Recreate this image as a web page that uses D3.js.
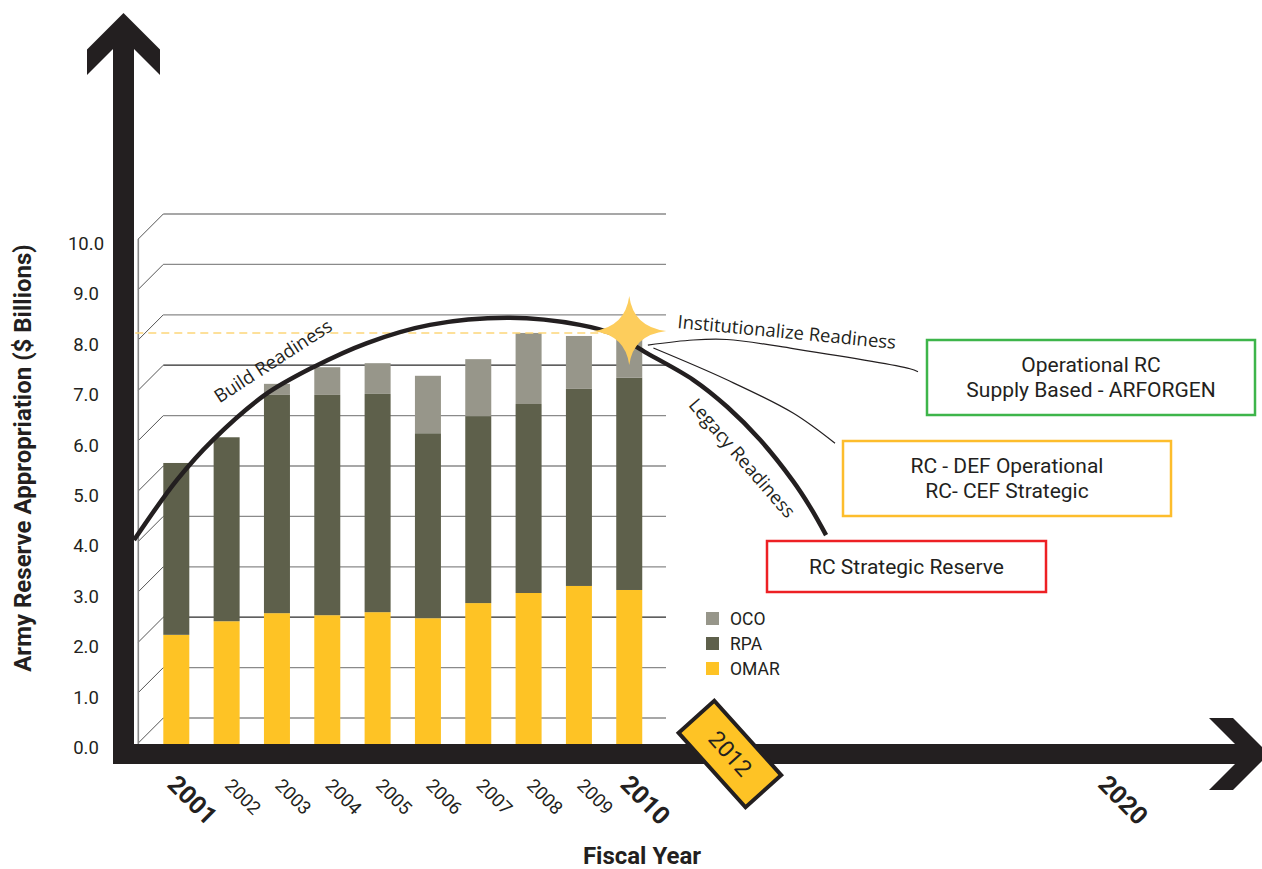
<!DOCTYPE html>
<html>
<head>
<meta charset="utf-8">
<script src="https://cdn.jsdelivr.net/npm/d3@7/dist/d3.min.js"></script>
<style>
  html, body { margin: 0; padding: 0; background: #ffffff; }
  svg { display: block; }
</style>
</head>
<body>
<svg id="chart" width="1262" height="869"></svg>
<script>
// ---------------- DATA ----------------
const years = [2001, 2002, 2003, 2004, 2005, 2006, 2007, 2008, 2009, 2010];
const omar  = [1.65, 1.92, 2.08, 2.04, 2.10, 1.98, 2.28, 2.48, 2.62, 2.54];
const rpa   = [3.41, 3.65, 4.33, 4.37, 4.33, 3.67, 3.71, 3.75, 3.91, 4.21];
const oco   = [0.00, 0.00, 0.22, 0.55, 0.61, 1.14, 1.13, 1.41, 1.05, 0.87];
const seriesNames = ["OCO", "RPA", "OMAR"];
const yTickValues = [0, 1, 2, 3, 4, 5, 6, 7, 8, 9, 10];
const yTickLabels = ["0.0","1.0","2.0","3.0","4.0","5.0","6.0","7.0","8.0","9.0","10.0"];
const boldYears = [2001, 2010, 2020];
const milestoneYears = [2012, 2020];
const referenceLevel = 7.64;   // dashed line level
const starValue = 7.68;        // star on FY2010

// annotation curves in (year, value) space
const readinessArc = [
  [2000.16, 3.53], [2001.01, 4.72], [2001.73, 5.52], [2002.76, 6.41], [2003.72, 6.96],
  [2004.79, 7.44], [2006.04, 7.80], [2007.63, 7.94], [2009.02, 7.80], [2009.68, 7.62],
  [2010.35, 7.24], [2011.27, 6.71], [2011.95, 6.17], [2012.64, 5.52], [2013.34, 4.70],
  [2013.70, 4.19], [2014.04, 3.63]
];
const institutionalizeLine = [
  [2010.37, 7.40], [2011.27, 7.50], [2011.94, 7.51], [2013.34, 7.33], [2015.82, 6.93], [2015.99, 6.87]
];
const defLine = [
  [2010.48, 7.34], [2011.94, 6.71], [2013.34, 6.05], [2014.23, 5.45]
];

// ---------------- LAYOUT ----------------
const svg = d3.select("#chart");
const x = d3.scaleLinear().domain([2001, 2012, 2020]).range([176.3, 729.9, 1107]);
const y = d3.scaleLinear().domain([0, 10]).range([718, 214]);
const barW = 26;
const depth = 25;           // 3-D wall offset
const gridRight = 666;
const axisColor = "#231f20";
const colors = { OCO: "#97968a", RPA: "#5e604b", OMAR: "#fec325" };
const sans = "Roboto, 'Open Sans', sans-serif";
const myriad = "'Open Sans', 'Noto Sans', sans-serif";

const floorY = y(0) + depth + 2;
const frontX = x.range()[0] - 38;
const backX = frontX + depth;

// ---------------- GRID (3-D wall) ----------------
const grid = svg.append("g");
grid.selectAll("line.h").data(yTickValues).join("line")
  .attr("x1", backX).attr("x2", gridRight)
  .attr("y1", d => y(d)).attr("y2", d => y(d))
  .attr("stroke", d => (d === 2 || d === 7) ? "#2a2a2a" : "#8a8a8a")
  .attr("stroke-width", 1.3);
grid.selectAll("line.d").data(yTickValues).join("line")
  .attr("x1", frontX).attr("x2", backX)
  .attr("y1", d => y(d) + depth).attr("y2", d => y(d))
  .attr("stroke", "#555").attr("stroke-width", 1);
grid.append("line")
  .attr("x1", frontX).attr("x2", frontX)
  .attr("y1", y(10) + depth).attr("y2", floorY)
  .attr("stroke", "#8a8a8a").attr("stroke-width", 1.6);

// ---------------- BARS ----------------
const table = years.map((yr, i) => ({ year: yr, OMAR: omar[i], RPA: rpa[i], OCO: oco[i] }));
const stack = d3.stack().keys(["OMAR", "RPA", "OCO"])(table);
const bars = svg.append("g");
stack.forEach(layer => {
  bars.append("g").attr("fill", colors[layer.key])
    .selectAll("rect").data(layer).join("rect")
    .attr("x", d => x(d.data.year) - barW / 2)
    .attr("width", barW)
    .attr("y", d => y(d[1]))
    .attr("height", d => (layer.key === "OMAR" ? floorY : y(d[0])) - y(d[1]));
});

// ---------------- DASHED REFERENCE ----------------
svg.append("line")
  .attr("x1", frontX - 3).attr("x2", x(2010))
  .attr("y1", y(referenceLevel)).attr("y2", y(referenceLevel))
  .attr("stroke", "#fdd67a").attr("stroke-width", 1.6)
  .attr("stroke-dasharray", "8,5");

// ---------------- CURVES ----------------
const line = d3.line().x(d => x(d[0])).y(d => y(d[1])).curve(d3.curveCatmullRom.alpha(0.5));
svg.append("path").attr("d", line(institutionalizeLine))
  .attr("fill", "none").attr("stroke", "#231f20").attr("stroke-width", 1.2);
svg.append("path").attr("d", line(defLine))
  .attr("fill", "none").attr("stroke", "#231f20").attr("stroke-width", 1.2);
svg.append("path").attr("d", line(readinessArc))
  .attr("fill", "none").attr("stroke", "#231f20").attr("stroke-width", 4.5)
  .attr("stroke-linecap", "butt");

// ---------------- STAR ----------------
svg.append("path")
  .attr("transform", `translate(${x(2010)},${y(starValue)})`)
  .attr("d", "M0,-35 Q4,-4 37,0 Q4,4 0,34 Q-4,4 -36,0 Q-4,-4 0,-35 Z")
  .attr("fill", "#fdcd5c");

// ---------------- CURVE LABELS ----------------
svg.append("text").text("Build Readiness")
  .attr("transform", `translate(${x(2002.91)},${y(7.1)}) rotate(-33)`)
  .attr("text-anchor", "middle").attr("dominant-baseline", "central")
  .attr("font-family", myriad).attr("font-size", 18.5).attr("fill", "#231f20");
svg.append("text").text("Institutionalize Readiness")
  .attr("transform", `translate(${x(2012) + 57},${y(7.68)}) rotate(5.5)`)
  .attr("text-anchor", "middle").attr("dominant-baseline", "central")
  .attr("font-family", myriad).attr("font-size", 18.5).attr("fill", "#231f20");
svg.append("text").text("Legacy Readiness")
  .attr("transform", `translate(${x(2012) + 13},${y(5.17)}) rotate(49)`)
  .attr("text-anchor", "middle").attr("dominant-baseline", "central")
  .attr("font-family", myriad).attr("font-size", 18.5).attr("fill", "#231f20");

// ---------------- STATUS BOXES ----------------
const boxes = [
  { x: 927, y: 340, w: 328, h: 75, color: "#3db54a", lines: ["Operational RC", "Supply Based - ARFORGEN"] },
  { x: 843, y: 441, w: 328, h: 75, color: "#fdbd2c", lines: ["RC - DEF Operational", "RC- CEF Strategic"] },
  { x: 767, y: 541, w: 279, h: 51, color: "#ed2024", lines: ["RC Strategic Reserve"] }
];
boxes.forEach(b => {
  svg.append("rect").attr("x", b.x).attr("y", b.y).attr("width", b.w).attr("height", b.h)
    .attr("fill", "#fff").attr("stroke", b.color).attr("stroke-width", 2.5);
  const n = b.lines.length;
  b.lines.forEach((t, i) => {
    svg.append("text").text(t)
      .attr("x", b.x + b.w / 2)
      .attr("y", b.y + b.h / 2 + (i - (n - 1) / 2) * 25)
      .attr("text-anchor", "middle").attr("dominant-baseline", "central")
      .attr("font-family", sans).attr("font-size", 21).attr("fill", "#231f20");
  });
});

// ---------------- LEGEND ----------------
const legend = svg.append("g").attr("transform", "translate(706,612)");
seriesNames.forEach((s, i) => {
  legend.append("rect").attr("x", 0).attr("y", i * 25).attr("width", 13).attr("height", 13)
    .attr("fill", colors[s]);
  legend.append("text").text(s).attr("x", 24).attr("y", i * 25 + 7)
    .attr("dominant-baseline", "central")
    .attr("font-family", sans).attr("font-size", 17.5).attr("fill", "#231f20");
});

// ---------------- AXES ----------------
const ax = svg.append("g").attr("fill", axisColor);
ax.append("rect").attr("x", 113).attr("y", 48).attr("width", 21).attr("height", 764 - 48);
ax.append("path").attr("d", "M123.5,13 L160,49.5 L160,75 L134,49 L113,49 L87,75 L87,49.5 Z");
ax.append("rect").attr("x", 113).attr("y", 744).attr("width", 1236 - 113).attr("height", 20);
ax.append("path").attr("d", "M1269,754 L1233,718 L1209,718 L1235,744 L1235,764 L1209,790 L1233,790 Z");

// y tick labels
svg.append("g").selectAll("text").data(yTickValues).join("text")
  .text((d, i) => yTickLabels[i])
  .attr("x", 86).attr("y", d => y(d) + 30)
  .attr("text-anchor", "middle").attr("dominant-baseline", "central")
  .attr("font-family", sans).attr("font-size", 18.5).attr("fill", "#231f20");

// y axis title
svg.append("text").text("Army Reserve Appropriation ($ Billions)")
  .attr("transform", "translate(23,458) rotate(-90)")
  .attr("text-anchor", "middle").attr("dominant-baseline", "central")
  .attr("font-family", sans).attr("font-weight", "bold").attr("font-size", 24).attr("fill", "#231f20");

// x year labels
svg.append("g").selectAll("text").data(years.concat([milestoneYears[1]])).join("text")
  .text(d => d)
  .attr("transform", d => {
    const b = boldYears.includes(d);
    return `translate(${x(d) + 16},${b ? 800 : 797}) rotate(45)`;
  })
  .attr("text-anchor", "middle").attr("dominant-baseline", "central")
  .attr("font-family", sans)
  .attr("font-weight", d => boldYears.includes(d) ? "bold" : "normal")
  .attr("font-size", d => boldYears.includes(d) ? 25 : 18.5)
  .attr("fill", "#231f20");

// 2012 milestone tag
const tag = svg.append("g").attr("transform", `translate(${x(milestoneYears[0])},754) rotate(48)`);
tag.append("rect").attr("x", -50).attr("y", -24).attr("width", 100).attr("height", 48)
  .attr("fill", "#fec325").attr("stroke", axisColor).attr("stroke-width", 4);
tag.append("text").text(milestoneYears[0])
  .attr("text-anchor", "middle").attr("dominant-baseline", "central")
  .attr("font-family", sans).attr("font-size", 23).attr("fill", "#231f20");

// x axis title
svg.append("text").text("Fiscal Year")
  .attr("x", 642).attr("y", 856)
  .attr("text-anchor", "middle").attr("dominant-baseline", "central")
  .attr("font-family", sans).attr("font-weight", "bold").attr("font-size", 24).attr("fill", "#231f20");
</script>
</body>
</html>
